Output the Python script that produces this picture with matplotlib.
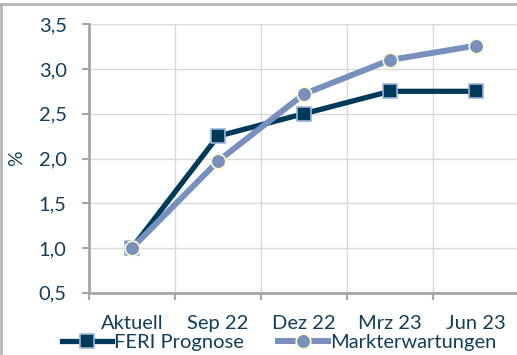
import matplotlib.pyplot as plt
from matplotlib.lines import Line2D

categories = ['Aktuell', 'Sep 22', 'Dez 22', 'Mrz 23', 'Jun 23']
feri = [1.0, 2.25, 2.5, 2.75, 2.75]
markt = [1.0, 1.97, 2.72, 3.1, 3.26]
yticks = [0.5, 1.0, 1.5, 2.0, 2.5, 3.0, 3.5]

txt = '#123E5C'
navy = '#003A5A'
blue = '#7790BE'

plt.rcParams['font.family'] = ['Lato', 'DejaVu Sans']

fig = plt.figure(figsize=(5.17, 3.55), dpi=100)
ax = fig.add_axes([0.172, 0.175, 0.832, 0.757])

x = range(len(categories))
ax.plot(x, feri, color=navy, lw=3.8, marker='s', ms=9.5,
        mfc=navy, mec='#9DB3DC', mew=1.2, label='FERI Prognose', zorder=3)
ax.plot(x, markt, color=blue, lw=4.3, marker='o', ms=10.5,
        mfc=blue, mec='#FFFFC8', mew=1.2, label='Markterwartungen', zorder=3)

ax.set_xlim(-0.5, 4.5)
ax.set_ylim(0.5, 3.5)
ax.set_yticks(yticks)
ax.set_yticklabels([f'{v:.1f}'.replace('.', ',') for v in yticks], fontsize=14.5, color=txt)
ax.set_xticks(list(x))
ax.set_xticklabels(categories, fontsize=14.5, color=txt)
ax.set_xticks([i - 0.5 for i in range(6)], minor=True)
ax.tick_params(axis='x', which='major', length=0, pad=16)
ax.tick_params(axis='x', which='minor', length=5, width=1.5, color='#A6A6A6')
ax.tick_params(axis='y', length=5, width=1.5, color='#A6A6A6', pad=11)
ax.grid(True, axis='y', color='#D9D9D9', lw=1)
ax.grid(True, axis='x', which='minor', color='#D9D9D9', lw=1)
ax.set_axisbelow(True)

for s in ['top', 'right']:
    ax.spines[s].set_visible(False)
for s in ['left', 'bottom']:
    ax.spines[s].set_color('#A6A6A6')
    ax.spines[s].set_linewidth(2)

ax.set_ylabel('%', fontsize=14, color=txt, labelpad=10)

fig.legend(loc='center', bbox_to_anchor=(0.54, 0.035), ncol=2, frameon=False,
           fontsize=14.5, handlelength=2.5, handletextpad=0.1, columnspacing=1.7,
           labelcolor=txt, borderpad=0)

# outer frame (clipped)
fig.add_artist(Line2D([0, 1], [0.988, 0.988], color='#B5B5B5', lw=2, transform=fig.transFigure))
fig.add_artist(Line2D([0.002, 0.002], [0, 0.988], color='#B5B5B5', lw=2, transform=fig.transFigure))

fig.savefig('out.png', dpi=100)
